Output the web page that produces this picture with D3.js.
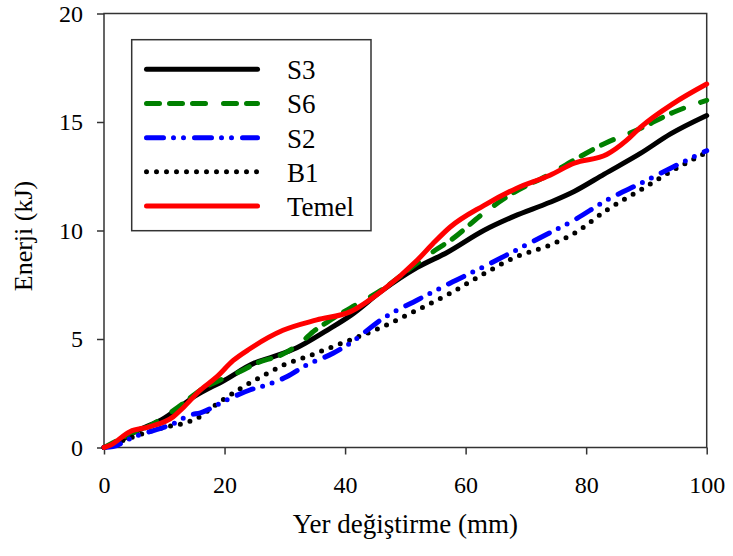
<!DOCTYPE html>
<html>
<head>
<meta charset="utf-8">
<script src="https://cdn.jsdelivr.net/npm/d3@7/dist/d3.min.js"></script>
<style>
  html, body { margin: 0; padding: 0; background: #fff; }
  svg { display: block; font-family: "Liberation Serif", "Times New Roman", serif; }
</style>
</head>
<body>
<svg id="chart" width="733" height="556"></svg>
<script>
// Displacement (mm) and energy (kJ) readings for each specimen
const s3X = [0, 2, 5, 10, 15, 20, 25, 28, 32, 37, 41, 46, 52, 57, 63, 68, 74, 78, 83, 89, 94, 100];
const s3Y = [0, 0.2, 0.7, 1.35, 2.35, 3.1, 3.9, 4.18, 4.6, 5.4, 6.1, 7.2, 8.3, 9.0, 10.0, 10.65, 11.3, 11.8, 12.6, 13.55, 14.45, 15.3];

const s6X = [0, 5, 7.6, 11, 13, 16, 20, 22.6, 25, 30, 32.5, 35, 38, 41, 46, 52, 55, 57.5, 63, 68, 74, 78, 83, 89, 94.5, 100];
const s6Y = [0, 0.7, 1.0, 1.6, 2.0, 2.65, 3.2, 3.5, 3.85, 4.35, 4.8, 5.4, 5.95, 6.45, 7.25, 8.5, 9.1, 9.55, 10.8, 11.75, 12.6, 13.25, 14.0, 14.7, 15.45, 16.0];

const s2X = [0, 1.5, 5, 7.6, 11.5, 14.3, 16, 20.4, 24.2, 27, 30.3, 33.6, 38, 40.8, 46.3, 52, 57.4, 63, 68.4, 74, 78, 83.4, 89, 94.5, 100];
const s2Y = [0, 0.04, 0.5, 0.73, 1.1, 1.5, 1.6, 2.2, 2.65, 2.88, 3.26, 3.8, 4.34, 4.8, 5.95, 6.8, 7.57, 8.33, 9.1, 9.9, 10.48, 11.4, 12.17, 12.94, 13.68];

const b1X = [0, 5, 10.4, 13.2, 15.9, 18.1, 20.3, 23.1, 27, 29.8, 33.6, 38, 40.8, 46.3, 52, 57.4, 63, 68.4, 74, 78, 83.4, 89, 94.5, 100];
const b1Y = [0, 0.5, 0.96, 1.11, 1.42, 1.88, 2.3, 2.8, 3.4, 3.8, 4.18, 4.65, 4.95, 5.57, 6.34, 7.1, 8.0, 8.79, 9.33, 9.87, 10.94, 11.87, 12.79, 13.6];

const temelX = [0, 1, 4.3, 7.6, 11.5, 13, 16, 18.7, 21.4, 24.2, 29.7, 35.3, 40.8, 46.3, 52, 54.6, 57.4, 63, 68.4, 74, 78, 83.4, 86.7, 89, 94.5, 100];
const temelY = [0, 0.1, 0.73, 0.96, 1.42, 1.8, 2.65, 3.25, 4.0, 4.55, 5.4, 5.88, 6.25, 7.26, 8.64, 9.4, 10.15, 11.15, 11.94, 12.55, 13.1, 13.5, 14.15, 14.75, 15.86, 16.75];

const seriesNames = ["S3", "S6", "S2", "B1", "Temel"];
const xTicks = [0, 20, 40, 60, 80, 100];
const yTicks = [0, 5, 10, 15, 20];

const xLabel = "Yer değiştirme (mm)";
const yLabel = "Enerji (kJ)";

// Line styles (round caps: dash lengths exclude the cap extension)
const styles = {
  S3:    { color: "#000000", dash: null },
  S6:    { color: "#008000", dash: "13 10 13 10 13 18" },
  S2:    { color: "#0000ff", dash: "17 10 0 10 0 11" },
  B1:    { color: "#000000", dash: "0 10" },
  Temel: { color: "#ff0000", dash: null }
};

const series = [
  { name: "S3", xs: s3X, ys: s3Y },
  { name: "S6", xs: s6X, ys: s6Y },
  { name: "S2", xs: s2X, ys: s2Y },
  { name: "B1", xs: b1X, ys: b1Y },
  { name: "Temel", xs: temelX, ys: temelY }
];

const svg = d3.select("#chart");
const plotLeft = 104, plotRight = 706.7, plotTop = 13.5, plotBottom = 447.5;

const x = d3.scaleLinear().domain([0, 100]).range([plotLeft, plotRight]);
const y = d3.scaleLinear().domain([0, 20]).range([plotBottom, plotTop]);

const frameColor = "#333";

// Axes
const gx = svg.append("g")
  .attr("transform", `translate(0,${plotBottom})`)
  .call(d3.axisBottom(x).tickValues(xTicks).tickSize(7).tickSizeOuter(0).tickPadding(21).tickFormat(d3.format("d")));
const gy = svg.append("g")
  .attr("transform", `translate(${plotLeft},0)`)
  .call(d3.axisLeft(y).tickValues(yTicks).tickSize(7).tickSizeOuter(0).tickPadding(14).tickFormat(d3.format("d")));

[gx, gy].forEach(g => {
  g.select(".domain").remove();
  g.selectAll(".tick line").attr("stroke", frameColor).attr("stroke-width", 1.5);
  g.selectAll(".tick text")
    .attr("fill", "#000")
    .style("font-family", "'Liberation Serif', 'Times New Roman', serif")
    .style("font-size", "24px");
});

// Plot frame
svg.append("rect")
  .attr("x", plotLeft).attr("y", plotTop)
  .attr("width", plotRight - plotLeft).attr("height", plotBottom - plotTop)
  .attr("fill", "none")
  .attr("stroke", frameColor)
  .attr("stroke-width", 1.5);

// Curves
const line = d3.line()
  .x(d => x(d[0]))
  .y(d => y(d[1]))
  .curve(d3.curveMonotoneX);

const drawOrder = ["S3", "S6", "B1", "S2", "Temel"];
drawOrder.forEach(name => {
  const s = series.find(v => v.name === name);
  const pts = s.xs.map((v, i) => [v, s.ys[i]]);
  const st = styles[name];
  svg.append("path")
    .datum(pts)
    .attr("d", line)
    .attr("fill", "none")
    .attr("stroke", st.color)
    .attr("stroke-width", 5)
    .attr("stroke-linecap", "round")
    .attr("stroke-linejoin", "round")
    .attr("stroke-dasharray", st.dash);
});

// Legend
const legend = svg.append("g");
legend.append("rect")
  .attr("x", 131.7).attr("y", 39.7)
  .attr("width", 371 - 131.7).attr("height", 230.7 - 39.7)
  .attr("fill", "#fff")
  .attr("stroke", frameColor)
  .attr("stroke-width", 1.5);

const legendRowY = d3.scalePoint().domain(seriesNames).range([69.3, 206]);
seriesNames.forEach(name => {
  const st = styles[name];
  const ly = legendRowY(name);
  legend.append("line")
    .attr("x1", 146.5).attr("x2", 257.5)
    .attr("y1", ly).attr("y2", ly)
    .attr("stroke", st.color)
    .attr("stroke-width", 5)
    .attr("stroke-linecap", "round")
    .attr("stroke-dasharray", st.dash);
  legend.append("text")
    .attr("x", 287).attr("y", ly + 10)
    .style("font-size", "27px")
    .attr("fill", "#000")
    .text(name);
});

// Axis titles
svg.append("text")
  .attr("x", (plotLeft + plotRight) / 2)
  .attr("y", 533)
  .attr("text-anchor", "middle")
  .style("font-size", "27px")
  .text(xLabel);

svg.append("text")
  .attr("transform", `translate(32,236) rotate(-90)`)
  .attr("text-anchor", "middle")
  .style("font-size", "26px")
  .text(yLabel);
</script>
</body>
</html>
